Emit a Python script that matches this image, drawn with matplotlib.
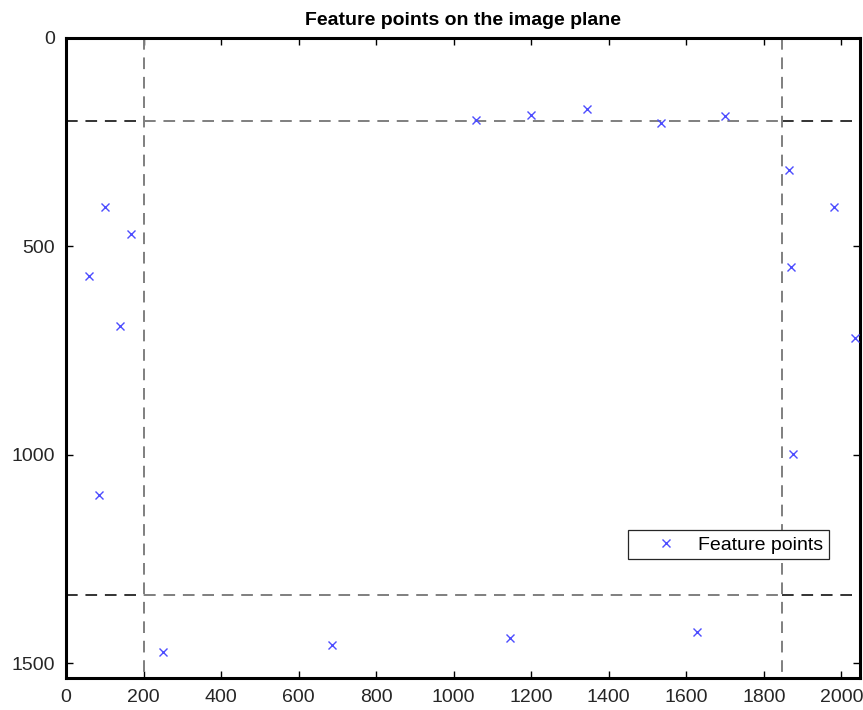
"""
Feature points detected on the image plane, with the border margin marked.
"""

import matplotlib.pyplot as plt
import numpy as np

plt.rcParams["font.family"] = ["Liberation Sans", "DejaVu Sans"]

# Image size and border margin (pixels)
image_width = 2048
image_height = 1536
margin = 200

# Feature point coordinates (u, v) on the image plane
feature_u = np.array([
    1058, 1199, 1344, 1534, 1699,
    1866, 1982, 1871, 2036, 1874,
    100, 167, 59, 139, 85,
    250, 687, 1145, 1627,
])
feature_v = np.array([
    197, 185, 171, 204, 187,
    317, 406, 550, 721, 998,
    406, 471, 572, 690, 1096,
    1474, 1457, 1440, 1425,
])

x_ticks = [0, 200, 400, 600, 800, 1000, 1200, 1400, 1600, 1800, 2000]
y_ticks = [0, 500, 1000, 1500]

fig = plt.figure(figsize=(8.63, 7.10), dpi=100)
ax = fig.add_axes([0.0765, 0.045, 0.92, 0.9015])

inner_left = margin
inner_right = image_width - margin
inner_top = margin
inner_bottom = image_height - margin

dash = (0, (6, 4))

# Horizontal margin lines: dark outside the inner region, grey inside
for v in (inner_top, inner_bottom):
    ax.plot([0, inner_left], [v, v], color="#333333", linestyle=dash, linewidth=1.4)
    ax.plot([inner_right, image_width], [v, v], color="#333333", linestyle=dash, linewidth=1.4)
    ax.plot([inner_left, inner_right], [v, v], color="#7f7f7f", linestyle=dash, linewidth=1.4)

# Vertical margin lines
for u in (inner_left, inner_right):
    ax.plot([u, u], [0, image_height], color="#7f7f7f", linestyle=dash, linewidth=1.4)

ax.plot(
    feature_u,
    feature_v,
    linestyle="none",
    marker="x",
    markersize=6,
    markeredgewidth=1.0,
    color="#4d4dff",
    label="Feature points",
    clip_on=False,
    zorder=5,
)

ax.set_xlim(0, image_width)
ax.set_ylim(image_height, 0)
ax.set_xticks(x_ticks)
ax.set_yticks(y_ticks)
ax.tick_params(
    direction="in",
    top=True,
    right=True,
    length=5,
    width=1,
    labelsize=14,
    labelcolor="#262626",
    pad=8,
)
for spine in ax.spines.values():
    spine.set_linewidth(2.2)

ax.set_title("Feature points on the image plane", fontsize=14, fontweight="bold", pad=9)

legend = ax.legend(
    loc="upper left",
    bbox_to_anchor=(0.708, 0.231),
    fontsize=14,
    frameon=True,
    fancybox=False,
    framealpha=1,
    edgecolor="#262626",
    borderpad=0.3,
    handlelength=3.3,
    handletextpad=0.0,
    borderaxespad=0,
)
legend.get_frame().set_linewidth(0.9)

fig.savefig("out.png", dpi=100)
